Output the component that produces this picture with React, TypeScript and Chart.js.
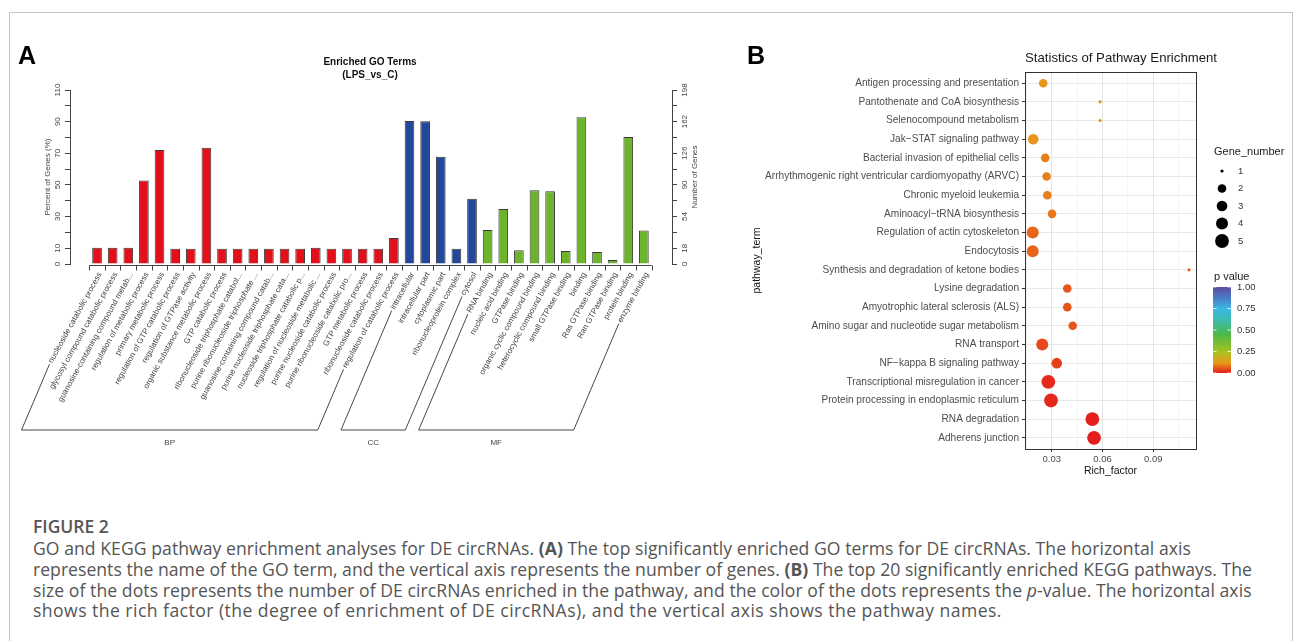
import React, { useEffect, useRef } from "react";
import { Chart, registerables } from "chart.js";

Chart.register(...registerables);

// ---------------- Panel A data ----------------
const goTerms = [
  "nucleoside catabolic process",
  "glycosyl compound catabolic process",
  "guanosine-containing compound metab...",
  "regulation of metabolic process",
  "primary metabolic process",
  "regulation of GTP catabolic process",
  "regulation of GTPase activity",
  "organic substance metabolic process",
  "GTP catabolic process",
  "ribonucleoside triphosphate catabol...",
  "purine ribonucleoside triphosphate ...",
  "guanosine-containing compound catab...",
  "purine nucleoside triphosphate cata...",
  "nucleoside triphosphate catabolic p...",
  "regulation of nucleoside metabolic ...",
  "purine nucleoside catabolic process",
  "purine ribonucleoside catabolic pro...",
  "GTP metabolic process",
  "ribonucleoside catabolic process",
  "regulation of catabolic process",
  "intracellular",
  "intracellular part",
  "cytoplasmic part",
  "ribonucleoprotein complex",
  "cytosol",
  "RNA binding",
  "nucleic acid binding",
  "GTPase binding",
  "organic cyclic compound binding",
  "heterocyclic compound binding",
  "small GTPase binding",
  "binding",
  "Ras GTPase binding",
  "Ran GTPase binding",
  "protein binding",
  "enzyme binding",
];
const goGroupNames = ["BP", "CC", "MF"];
const goGroupSizes = [20, 5, 11];
const goPercent = [
  10.3, 10.3, 10.3, 52.8, 72.0, 9.7, 9.7, 73.5, 9.7, 9.7, 9.7, 9.7, 9.7, 9.7,
  10.3, 9.7, 9.7, 9.7, 9.7, 16.5,
  90.4, 90.2, 67.8, 9.7, 41.2,
  21.5, 34.8, 8.7, 46.7, 46.0, 8.2, 92.7, 7.6, 2.5, 80.3, 21.1,
];
const leftTicks = [0, 10, 20, 30, 40, 50, 60, 70, 80, 90, 100, 110];
const leftLabels = [0, 10, 30, 50, 70, 90, 110];
const rightTicks = [0, 18, 36, 54, 72, 90, 108, 126, 144, 162, 180, 198];
const rightLabels = [0, 18, 54, 90, 126, 162, 198];

// ---------------- Panel B data ----------------
const pathways = [
  "Antigen processing and presentation",
  "Pantothenate and CoA biosynthesis",
  "Selenocompound metabolism",
  "Jak\u2212STAT signaling pathway",
  "Bacterial invasion of epithelial cells",
  "Arrhythmogenic right ventricular cardiomyopathy (ARVC)",
  "Chronic myeloid leukemia",
  "Aminoacyl\u2212tRNA biosynthesis",
  "Regulation of actin cytoskeleton",
  "Endocytosis",
  "Synthesis and degradation of ketone bodies",
  "Lysine degradation",
  "Amyotrophic lateral sclerosis (ALS)",
  "Amino sugar and nucleotide sugar metabolism",
  "RNA transport",
  "NF\u2212kappa B signaling pathway",
  "Transcriptional misregulation in cancer",
  "Protein processing in endoplasmic reticulum",
  "RNA degradation",
  "Adherens junction",
];
const richFactor = [
  0.025, 0.0586, 0.0586, 0.0191, 0.0262, 0.027, 0.0274, 0.0302, 0.0188, 0.0188,
  0.1111, 0.0392, 0.0392, 0.0424, 0.0244, 0.033, 0.028, 0.0296, 0.054, 0.055,
];
const geneNumber = [2, 1, 1, 3, 2, 2, 2, 2, 4, 4, 1, 2, 2, 2, 4, 3, 5, 5, 5, 5];
const pValue = [
  0.115, 0.11, 0.11, 0.115, 0.095, 0.095, 0.095, 0.085, 0.07, 0.07,
  0.06, 0.055, 0.055, 0.055, 0.045, 0.035, 0.015, 0.013, 0.005, 0.004,
];
const richTicks = [0.015, 0.03, 0.045, 0.06, 0.075, 0.09, 0.105];
const richLabels = [0.03, 0.06, 0.09];
const geneLegend = [1, 2, 3, 4, 5];
const pLegend = [0, 0.25, 0.5, 0.75, 1];

// ---------------- styles ----------------
const FONT = '"Liberation Sans", Arial, sans-serif';
const groupColors = ["#e3101b", "#23479b", "#6bb42c"];
const pStops: [number, string][] = [
  [0, "#e41a1c"],
  [0.12, "#e89b1b"],
  [0.25, "#a5c31f"],
  [0.45, "#4cb84a"],
  [0.62, "#3dbbb0"],
  [0.75, "#3cb7e6"],
  [0.88, "#4a79c4"],
  [1, "#5c4b9f"],
];
const hex = (h: string) => [1, 3, 5].map((k) => parseInt(h.slice(k, k + 2), 16));
function pColor(p: number) {
  for (let k = 1; k < pStops.length; k++) {
    if (p <= pStops[k][0]) {
      const [p0, c0] = pStops[k - 1];
      const [p1, c1] = pStops[k];
      const t = (p - p0) / (p1 - p0);
      const a = hex(c0), b = hex(c1);
      const c = a.map((v, i) => Math.round(v + (b[i] - v) * t));
      return `rgb(${c[0]},${c[1]},${c[2]})`;
    }
  }
  return pStops[pStops.length - 1][1];
}
const sizeRadius = (n: number) => [0, 1.6, 4.3, 5.3, 6.0, 6.9][n];
const groupOf = (i: number) => {
  let acc = 0;
  for (let g = 0; g < goGroupSizes.length; g++) {
    acc += goGroupSizes[g];
    if (i < acc) return g;
  }
  return goGroupSizes.length - 1;
};

const LABEL_ANGLE = (61 * Math.PI) / 180;
const BRACKET_ANGLE = (67 * Math.PI) / 180;

const goPlugin = {
  id: "goDecor",
  afterDraw(chart: any) {
    const { ctx, chartArea } = chart;
    const xs = chart.scales.x;
    const base = chartArea.bottom;
    ctx.save();
    ctx.strokeStyle = "#444";
    ctx.lineWidth = 1;
    const axY = base + 1.5;
    const x0 = xs.getPixelForValue(-0.5);
    const x1 = xs.getPixelForValue(goTerms.length - 0.5);
    ctx.beginPath();
    ctx.moveTo(x0, axY);
    ctx.lineTo(x1, axY);
    for (let k = 0; k <= goTerms.length; k++) {
      const x = Math.round(xs.getPixelForValue(k - 0.5)) + 0.5;
      ctx.moveTo(x, axY);
      ctx.lineTo(x, axY + 5);
    }
    ctx.stroke();

    // rotated category labels
    ctx.font = `8px ${FONT}`;
    ctx.fillStyle = "#444";
    ctx.textAlign = "right";
    ctx.textBaseline = "middle";
    const ends: { x: number; y: number }[] = [];
    goTerms.forEach((t, i) => {
      const ax = xs.getPixelForValue(i) + 3;
      const ay = base + 9;
      ctx.save();
      ctx.translate(ax, ay);
      ctx.rotate(-LABEL_ANGLE);
      ctx.fillText(t, 0, 0);
      ctx.restore();
      const w = ctx.measureText(t).width + 2;
      ends.push({ x: ax - w * Math.cos(LABEL_ANGLE), y: ay + w * Math.sin(LABEL_ANGLE) });
    });

    // group brackets
    const yb = 430;
    let start = 0;
    ctx.strokeStyle = "#333";
    ctx.lineWidth = 0.9;
    ctx.textAlign = "center";
    goGroupSizes.forEach((size, g) => {
      const s = ends[start];
      const e = ends[start + size - 1];
      const cl = s.x - (yb - s.y) / Math.tan(BRACKET_ANGLE);
      const cr = e.x - (yb - e.y) / Math.tan(BRACKET_ANGLE);
      ctx.beginPath();
      ctx.moveTo(s.x, s.y);
      ctx.lineTo(cl, yb);
      ctx.lineTo(cr, yb);
      ctx.lineTo(e.x, e.y);
      ctx.stroke();
      ctx.fillText(goGroupNames[g], (cl + cr) / 2, yb + 13);
      start += size;
    });

    // right axis title (reads bottom to top)
    ctx.save();
    ctx.translate(chartArea.right + 23, (chartArea.top + chartArea.bottom) / 2);
    ctx.rotate(-Math.PI / 2);
    ctx.fillText("Number of Genes", 0, 0);
    ctx.restore();
    ctx.restore();
  },
};

const keggPlugin = {
  id: "keggDecor",
  afterDraw(chart: any) {
    const { ctx, chartArea } = chart;
    ctx.save();
    ctx.strokeStyle = "#333";
    ctx.lineWidth = 1;
    ctx.strokeRect(
      Math.round(chartArea.left) + 0.5,
      Math.round(chartArea.top) + 0.5,
      Math.round(chartArea.right - chartArea.left),
      Math.round(chartArea.bottom - chartArea.top)
    );
    // title
    ctx.fillStyle = "#1a1a1a";
    ctx.font = `13.2px ${FONT}`;
    ctx.textAlign = "left";
    ctx.textBaseline = "middle";
    ctx.fillText("Statistics of Pathway Enrichment", chartArea.left, 58.5);

    // size legend
    const lx = chartArea.right + 18;
    ctx.font = `11px ${FONT}`;
    ctx.fillText("Gene_number", lx, 152);
    ctx.font = `9.5px ${FONT}`;
    geneLegend.forEach((n, k) => {
      const y = 171 + k * 17.5;
      ctx.fillStyle = "#000";
      ctx.beginPath();
      ctx.arc(lx + 8, y, sizeRadius(n), 0, Math.PI * 2);
      ctx.fill();
      ctx.fillStyle = "#333";
      ctx.fillText(String(n), lx + 24, y);
    });

    // colour bar legend
    ctx.font = `11px ${FONT}`;
    ctx.fillStyle = "#1a1a1a";
    ctx.fillText("p value", lx, 277);
    const bx = lx - 1, by0 = 373, by1 = 287, bw = 18;
    const grad = ctx.createLinearGradient(0, by0, 0, by1);
    pStops.forEach(([p, c]) => grad.addColorStop(p, c));
    ctx.fillStyle = grad;
    ctx.fillRect(bx, by1, bw, by0 - by1);
    ctx.font = `9.5px ${FONT}`;
    pLegend.forEach((p) => {
      const y = by0 - p * (by0 - by1);
      ctx.strokeStyle = "#fff";
      ctx.lineWidth = 0.8;
      ctx.beginPath();
      ctx.moveTo(bx, y);
      ctx.lineTo(bx + 3.5, y);
      ctx.moveTo(bx + bw - 3.5, y);
      ctx.lineTo(bx + bw, y);
      ctx.stroke();
      ctx.fillStyle = "#333";
      ctx.fillText(p.toFixed(2), bx + bw + 6, y);
    });
    ctx.restore();
  },
};

function GoChart() {
  const ref = useRef<HTMLCanvasElement>(null);
  useEffect(() => {
    const chart = new Chart(ref.current as HTMLCanvasElement, {
      type: "bar",
      data: {
        datasets: [
          {
            data: goPercent.map((v, i) => ({ x: i, y: v })) as any,
            backgroundColor: goPercent.map((_, i) => groupColors[groupOf(i)]),
            borderColor: "#3a3a3a",
            borderWidth: 1,
            barPercentage: 0.62,
            categoryPercentage: 1,
            yAxisID: "y",
          },
        ],
      },
      options: {
        animation: false,
        responsive: false,
        maintainAspectRatio: false,
        layout: { padding: { left: 0, right: 0, top: 0, bottom: 196 } },
        plugins: {
          legend: { display: false },
          tooltip: { enabled: false },
          title: {
            display: true,
            text: ["Enriched GO Terms", "(LPS_vs_C)"],
            color: "#111",
            font: { family: FONT, size: 10, weight: "bold", lineHeight: 1.3 },
            padding: { top: 56, bottom: 8 },
          },
        },
        scales: {
          x: { type: "linear", display: false, offset: false, min: -1.73, max: 36.8 },
          y: {
            position: "left",
            min: 0,
            max: 110,
            afterBuildTicks: (s: any) => {
              s.ticks = leftTicks.map((v) => ({ value: v }));
            },
            afterFit: (s: any) => {
              s.width = 70;
            },
            ticks: {
              autoSkip: false,
              callback: (v: any) => (leftLabels.includes(Number(v)) ? String(v) : ""),
              minRotation: 90,
              maxRotation: 90,
              crossAlign: "center",
              padding: 1,
              color: "#444",
              font: { family: FONT, size: 8 },
            },
            grid: { drawOnChartArea: false, tickLength: 5, color: "#444" },
            border: { color: "#444" },
            title: {
              display: true,
              text: "Percent of Genes (%)",
              color: "#444",
              font: { family: FONT, size: 8 },
              padding: { top: 43, bottom: 0 },
            },
          },
          y2: {
            position: "right",
            min: 0,
            max: 198,
            afterBuildTicks: (s: any) => {
              s.ticks = rightTicks.map((v) => ({ value: v }));
            },
            afterFit: (s: any) => {
              s.width = 68;
            },
            ticks: {
              autoSkip: false,
              callback: (v: any) => (rightLabels.includes(Number(v)) ? String(v) : ""),
              minRotation: 90,
              maxRotation: 90,
              crossAlign: "center",
              padding: 1.5,
              color: "#444",
              font: { family: FONT, size: 8 },
            },
            grid: { drawOnChartArea: false, tickLength: 5, color: "#444" },
            border: { color: "#444" },
          },
        },
      } as any,
      plugins: [goPlugin],
    });
    return () => chart.destroy();
  }, []);
  return (
    <canvas
      ref={ref}
      width={740}
      height={460}
      style={{ position: "absolute", left: 0, top: 0, width: 740, height: 460 }}
    />
  );
}

function KeggChart() {
  const ref = useRef<HTMLCanvasElement>(null);
  useEffect(() => {
    const isMajor = (v: number) => richLabels.some((m) => Math.abs(m - v) < 1e-9);
    const chart = new Chart(ref.current as HTMLCanvasElement, {
      type: "scatter",
      data: {
        datasets: [
          {
            data: pathways.map((_, i) => ({ x: richFactor[i], y: i })),
            pointRadius: (c: any) => sizeRadius(geneNumber[c.dataIndex]),
            pointHoverRadius: (c: any) => sizeRadius(geneNumber[c.dataIndex]),
            pointBackgroundColor: (c: any) => pColor(pValue[c.dataIndex]),
            pointBorderWidth: 0,
          } as any,
        ],
      },
      options: {
        animation: false,
        responsive: false,
        maintainAspectRatio: false,
        layout: { padding: { left: 0, right: 99, top: 72, bottom: 0 } },
        plugins: { legend: { display: false }, tooltip: { enabled: false } },
        scales: {
          x: {
            type: "linear",
            min: 0.01423,
            max: 0.11522,
            afterBuildTicks: (s: any) => {
              s.ticks = richTicks.map((v) => ({ value: v }));
            },
            afterFit: (s: any) => {
              s.height = 31;
            },
            ticks: {
              autoSkip: false,
              maxRotation: 0,
              callback: (v: any) => (isMajor(v) ? Number(v).toFixed(2) : ""),
              color: "#4d4d4d",
              font: { family: FONT, size: 9.5 },
              padding: 2,
            },
            grid: {
              color: (c: any) => (c.tick && isMajor(c.tick.value) ? "#e4e4e4" : "#f1f1f1"),
              lineWidth: (c: any) => (c.tick && isMajor(c.tick.value) ? 1 : 0.7),
              tickColor: (c: any) => (c.tick && isMajor(c.tick.value) ? "#333" : "rgba(0,0,0,0)"),
              tickLength: 3,
            },
            border: { display: false },
            title: {
              display: true,
              text: "Rich_factor",
              color: "#111",
              font: { family: FONT, size: 10.5 },
              padding: { top: 0, bottom: 3 },
            },
          },
          y: {
            type: "linear",
            reverse: true,
            min: -0.6,
            max: 19.6,
            afterBuildTicks: (s: any) => {
              s.ticks = pathways.map((_, i) => ({ value: i }));
            },
            afterFit: (s: any) => {
              s.width = 285;
            },
            ticks: {
              autoSkip: false,
              callback: (v: any) => pathways[v],
              color: "#4d4d4d",
              font: { family: FONT, size: 10.1 },
              padding: 3,
            },
            grid: { color: "#e8e8e8", tickColor: "#333", tickLength: 3 },
            border: { display: false },
            title: {
              display: true,
              text: "pathway_term",
              color: "#111",
              font: { family: FONT, size: 10.5 },
              padding: { top: 11, bottom: 0 },
            },
          },
        },
      } as any,
      plugins: [keggPlugin],
    });
    return () => chart.destroy();
  }, []);
  return (
    <canvas
      ref={ref}
      width={555}
      height={480}
      style={{ position: "absolute", left: 740, top: 0, width: 555, height: 480 }}
    />
  );
}

const capFont = '"Open Sans", Lato, sans-serif';
const lineStyle = (top: number, spacing = 0): React.CSSProperties => ({
  position: "absolute",
  left: 33,
  top,
  whiteSpace: "nowrap",
  fontFamily: capFont,
  fontSize: 17.6,
  lineHeight: "20px",
  letterSpacing: spacing,
  color: "#555",
});

export default function App() {
  return (
    <div
      style={{
        position: "fixed",
        left: 0,
        top: 0,
        width: 1295,
        height: 641,
        background: "#fff",
        overflow: "hidden",
      }}
    >
      <div
        style={{
          position: "absolute",
          left: 9,
          top: 12,
          width: 1282,
          height: 700,
          border: "1px solid #c4c4c4",
        }}
      />
      <GoChart />
      <KeggChart />
      <div
        style={{
          position: "absolute",
          left: 18,
          top: 43,
          fontFamily: FONT,
          fontWeight: "bold",
          fontSize: 25,
          lineHeight: "25px",
          color: "#000",
        }}
      >
        A
      </div>
      <div
        style={{
          position: "absolute",
          left: 747,
          top: 43,
          fontFamily: FONT,
          fontWeight: "bold",
          fontSize: 25,
          lineHeight: "25px",
          color: "#000",
        }}
      >
        B
      </div>
      <div
        style={{
          ...lineStyle(516),
          fontWeight: 600,
          fontSize: 17.5,
          color: "#555",
        }}
      >
        FIGURE 2
      </div>
      <div style={lineStyle(538, 0.05)}>
        GO and KEGG pathway enrichment analyses for DE circRNAs. <b>(A)</b> The top significantly
        enriched GO terms for DE circRNAs. The horizontal axis
      </div>
      <div style={lineStyle(559, 0.02)}>
        represents the name of the GO term, and the vertical axis represents the number of genes.{" "}
        <b>(B)</b> The top 20 significantly enriched KEGG pathways. The
      </div>
      <div style={lineStyle(580, 0.06)}>
        size of the dots represents the number of DE circRNAs enriched in the pathway, and the color
        of the dots represents the <i>p</i>-value. The horizontal axis
      </div>
      <div style={lineStyle(600, 0.45)}>
        shows the rich factor (the degree of enrichment of DE circRNAs), and the vertical axis shows
        the pathway names.
      </div>
    </div>
  );
}
